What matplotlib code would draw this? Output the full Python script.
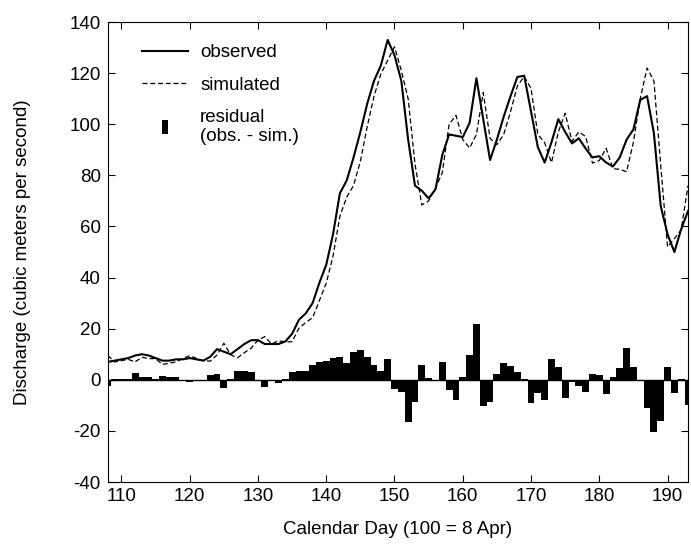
import numpy as np
import matplotlib
matplotlib.use('Agg')
import matplotlib.pyplot as plt
from matplotlib.lines import Line2D

plt.rcParams['font.family'] = ['Liberation Sans', 'DejaVu Sans']
plt.rcParams['axes.unicode_minus'] = False

# daily discharge, days 108-193
days = np.arange(108, 194)

observed = [7, 7.5, 8, 8.5, 9.5, 10, 9.5, 8.5, 7.5, 7.5,
            8, 8, 8.5, 8, 7.5, 9, 12, 11, 10, 12,
            14, 15.5, 15.5, 14, 14, 14, 15, 18, 23.5, 26,
            30, 38, 45, 57, 73, 78, 87, 97, 108, 117,
            123, 133, 127, 117, 94, 76, 74, 71, 74.5, 88,
            96, 95.5, 95, 100.5, 118, 102, 86, 94, 103, 111,
            118.5, 119, 105, 91, 85, 93, 102, 97, 92.5, 94.5,
            90.5, 87, 87.5, 85, 83.5, 87, 94, 98, 109.5, 111,
            96.5, 68, 57, 50, 59, 66]

simulated = [9.5, 7, 7.5, 8, 7, 8.8, 8.3, 8.3, 6, 6.5,
             7, 8.4, 9.4, 8.4, 7.5, 7.3, 9.7, 14.3, 9.8, 8.6,
             10.6, 12.4, 15.5, 16.9, 14, 15.3, 14.8, 14.9, 20.2, 22.4,
             24.3, 31, 37.8, 48.5, 64, 71.5, 76, 85.5, 99, 111,
             119.7, 125, 130.3, 121, 110, 84.5, 68.4, 70, 75, 81,
             100, 103.5, 94, 90.7, 96, 112.4, 94.5, 92, 96, 105,
             115, 118.7, 114, 96, 92.8, 85, 97, 104.3, 93.3, 97,
             95.2, 84.8, 85.8, 90.6, 82.6, 82.4, 81.4, 93, 110, 122,
             117, 84, 52, 55.2, 58.7, 76]

residual = [-2.5, 0.5, 0.5, 0.5, 2.6, 1.2, 1.2, 0.2, 1.6, 1.0,
            1.0, -0.4, -0.9, -0.4, 0, 1.7, 2.3, -3.3, 0.2, 3.4,
            3.4, 3.1, 0, -2.9, 0, -1.3, 0.2, 3.1, 3.3, 3.6,
            5.7, 7, 7.2, 8.5, 8.9, 6.5, 11, 11.5, 8.9, 5.9,
            3.3, 8.1, -3.5, -4.8, -16.7, -8.5, 5.6, 0.8, -0.3, 6.8,
            -3.9, -8, 1, 9.8, 21.9, -10.4, -8.5, 2.2, 6.7, 5.5,
            3.1, 0.3, -8.9, -5, -7.8, 8.1, 5.1, -7.3, -0.8, -2.6,
            -4.7, 2.2, 1.7, -5.6, 0.9, 4.6, 12.6, 5.1, -0.4, -11,
            -20.5, -16, 5, -5.2, 0.3, -9.8]

xticks = np.arange(110, 191, 10)
yticks = np.arange(-40, 141, 20)

fig = plt.figure(figsize=(6.91, 5.55), dpi=100)
ax = fig.add_axes([0.156, 0.1315, 0.8397, 0.8288])

ax.bar(days, residual, width=1.0, color='black', linewidth=0)
ax.axhline(0, color='black', lw=1.0)
ax.plot(days, observed, color='black', lw=1.5)
ax.plot(days, simulated, color='black', lw=0.9, ls=(0, (4, 2.2)))

ax.set_xlim(108, 193)
ax.set_ylim(-40, 140)
ax.set_xticks(xticks)
ax.set_yticks(yticks)
ax.tick_params(direction='in', top=True, right=True, length=5, width=0.8,
               labelsize=13.5)
ax.tick_params(axis='y', pad=5)
ax.tick_params(axis='x', pad=4)
for s in ax.spines.values():
    s.set_linewidth(0.8)

ax.set_xlabel('Calendar Day (100 = 8 Apr)', fontsize=13.5, labelpad=12)
ax.set_ylabel('Discharge (cubic meters per second)', fontsize=13.5, labelpad=28)

# small upright block for the residual entry
bar_marker = [(-0.2, -0.5), (0.2, -0.5), (0.2, 0.5), (-0.2, 0.5)]
handles = [Line2D([], [], color='black', lw=1.5),
           Line2D([], [], color='black', lw=0.9, ls=(0, (4, 2.2))),
           Line2D([], [], color='black', ls='none', marker=bar_marker,
                  markersize=10, markeredgewidth=0)]
labels = ['observed', 'simulated', 'residual\n(obs. - sim.)']
ax.legend(handles, labels, loc='upper left', frameon=False, fontsize=13.5,
          handlelength=2.45, handletextpad=0.65, labelspacing=0.8,
          borderaxespad=0, bbox_to_anchor=(0.046, 0.968))

fig.savefig('out.png', dpi=100)
